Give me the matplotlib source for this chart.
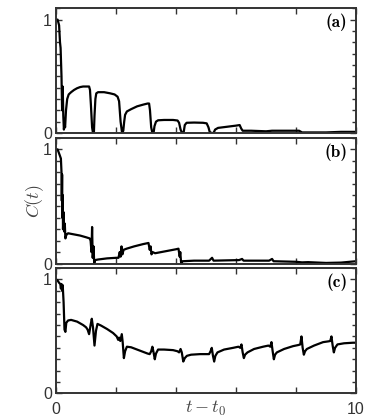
import matplotlib
matplotlib.use("Agg")
import os
import matplotlib.pyplot as plt
from matplotlib.ticker import MultipleLocator
from matplotlib.font_manager import FontProperties

plt.rcParams['mathtext.fontset'] = 'cm'
plt.rcParams['font.family'] = ['Liberation Sans', 'DejaVu Sans']

# ---- data ----
t_a = [0.0, 0.05, 0.1, 0.13, 0.15, 0.18, 0.2, 0.22, 0.24, 0.26, 0.28, 0.3, 0.33, 0.37, 0.42, 0.5, 0.6, 0.7,
       0.8, 0.9, 1.0, 1.1, 1.13, 1.16, 1.2, 1.23, 1.26, 1.28, 1.31, 1.34, 1.4, 1.6, 1.8, 1.95, 2.05, 2.1,
       2.15, 2.2, 2.24, 2.27, 2.3, 2.36, 2.5, 2.7, 2.9, 3.05, 3.1, 3.13, 3.17, 3.21, 3.25, 3.28, 3.33, 3.4,
       3.6, 3.9, 4.05, 4.1, 4.15, 4.2, 4.25, 4.29, 4.35, 4.6, 4.9, 5.02, 5.08, 5.12, 5.18, 5.25, 5.3, 5.4,
       5.7, 6.0, 6.12, 6.17, 6.22, 6.5, 7.0, 7.2, 7.5, 8.1, 8.2, 9.0, 9.5, 10.0]
c_a = [1.0, 1.0, 0.95, 0.8, 0.75, 0.5, 0.2, 0.41, 0.15, 0.03, 0.08, 0.05, 0.2, 0.3, 0.34, 0.36, 0.38, 0.395,
       0.405, 0.41, 0.41, 0.41, 0.38, 0.25, 0.05, 0.0, 0.0, 0.15, 0.3, 0.35, 0.36, 0.36, 0.35, 0.34, 0.32, 0.28,
       0.1, 0.0, 0.02, 0.1, 0.16, 0.19, 0.21, 0.235, 0.25, 0.26, 0.26, 0.2, 0.05, 0.0, 0.0, 0.06, 0.1, 0.112,
       0.115, 0.115, 0.11, 0.09, 0.03, 0.0, 0.0, 0.07, 0.09, 0.092, 0.09, 0.085, 0.05, 0.01, 0.0, 0.0, 0.03, 0.045,
       0.055, 0.065, 0.07, 0.04, 0.02, 0.02, 0.015, 0.02, 0.02, 0.02, 0.005, 0.005, 0.01, 0.01]

t_b = [0.0, 0.05, 0.12, 0.16, 0.18, 0.19, 0.2, 0.21, 0.22, 0.23, 0.25, 0.27, 0.29, 0.31, 0.34, 0.4, 0.6, 0.8,
       1.0, 1.12, 1.15, 1.18, 1.2, 1.22, 1.25, 1.27, 1.3, 1.4, 1.7, 2.0, 2.08, 2.12, 2.15, 2.18, 2.21, 2.25,
       2.35, 2.6, 2.9, 3.08, 3.12, 3.15, 3.18, 3.22, 3.3, 3.5, 3.8, 4.0, 4.08, 4.12, 4.14, 4.17, 4.22, 4.6,
       5.1, 5.2, 5.25, 6.1, 6.2, 6.25, 7.1, 7.2, 7.25, 8.0, 8.2, 8.4, 9.0, 9.5, 10.0]
c_b = [1.0, 1.0, 0.95, 0.92, 0.8, 0.55, 0.78, 0.4, 0.6, 0.3, 0.45, 0.28, 0.35, 0.22, 0.25, 0.265, 0.255, 0.245,
       0.23, 0.22, 0.2, 0.1, 0.32, 0.05, 0.15, 0.0, 0.03, 0.035, 0.045, 0.05, 0.05, 0.1, 0.06, 0.15, 0.08, 0.12,
       0.13, 0.15, 0.17, 0.18, 0.12, 0.15, 0.08, 0.1, 0.09, 0.1, 0.115, 0.125, 0.13, 0.06, 0.1, 0.0, 0.02, 0.025,
       0.025, 0.05, 0.025, 0.03, 0.04, 0.025, 0.025, 0.04, 0.02, 0.015, 0.01, 0.012, 0.005, 0.008, 0.02]

t_c = [0.0, 0.05, 0.1, 0.14, 0.16, 0.18, 0.2, 0.22, 0.25, 0.28, 0.31, 0.34, 0.4, 0.5, 0.7, 0.9, 1.0, 1.05,
       1.1, 1.15, 1.19, 1.23, 1.28, 1.33, 1.38, 1.5, 1.7, 1.9, 2.02, 2.07, 2.1, 2.14, 2.19, 2.22, 2.26, 2.3,
       2.36, 2.5, 2.7, 2.9, 3.05, 3.12, 3.17, 3.21, 3.25, 3.29, 3.33, 3.4, 3.6, 3.9, 4.05, 4.1, 4.15, 4.19,
       4.24, 4.29, 4.36, 4.5, 4.8, 5.1, 5.15, 5.19, 5.23, 5.27, 5.31, 5.38, 5.6, 5.9, 6.08, 6.14, 6.18, 6.22,
       6.26, 6.3, 6.38, 6.6, 6.9, 7.08, 7.14, 7.18, 7.22, 7.26, 7.3, 7.36, 7.6, 7.9, 8.08, 8.14, 8.18, 8.22,
       8.26, 8.3, 8.36, 8.6, 8.9, 9.08, 9.14, 9.18, 9.22, 9.26, 9.3, 9.38, 9.6, 9.9, 10.0]
c_c = [1.0, 0.99, 0.97, 0.96, 0.92, 0.96, 0.9, 0.95, 0.8, 0.56, 0.54, 0.62, 0.64, 0.645, 0.63, 0.6, 0.58, 0.56,
       0.52, 0.6, 0.655, 0.58, 0.42, 0.55, 0.61, 0.595, 0.565, 0.53, 0.5, 0.47, 0.49, 0.46, 0.52, 0.45, 0.31, 0.37,
       0.41, 0.405, 0.385, 0.365, 0.35, 0.345, 0.37, 0.41, 0.36, 0.30, 0.35, 0.385, 0.385, 0.38, 0.37, 0.36, 0.39, 0.36,
       0.28, 0.31, 0.33, 0.34, 0.345, 0.345, 0.37, 0.40, 0.33, 0.28, 0.33, 0.36, 0.385, 0.40, 0.41, 0.40, 0.43, 0.36,
       0.31, 0.34, 0.36, 0.39, 0.41, 0.42, 0.41, 0.45, 0.37, 0.30, 0.34, 0.36, 0.39, 0.415, 0.425, 0.43, 0.50, 0.40,
       0.34, 0.37, 0.39, 0.42, 0.45, 0.457, 0.46, 0.50, 0.42, 0.36, 0.40, 0.43, 0.44, 0.445, 0.445]

panel_labels = ['(a)', '(b)', '(c)']
x_ticks = [0, 2, 4, 6, 8, 10]
x_ticklabels = ['0', '', '', '', '', '10']
y_ticks = [0, 1]
y_ticklabels = ['0', '1']

series = [(t_a, c_a), (t_b, c_b), (t_c, c_c)]

cmb_path = os.path.join(matplotlib.get_data_path(), 'fonts', 'ttf', 'cmb10.ttf')
label_font = FontProperties(fname=cmb_path, size=12.5)

fig = plt.figure(figsize=(3.74, 4.19), dpi=100)
L, W = 0.150, 0.802
boxes = [(0.6826, 0.2976), (0.3711, 0.2995), (0.0609, 0.2995)]
spine_col = '#333333'
tick_col = '#333333'

for i, ((t, c), (b, h)) in enumerate(zip(series, boxes)):
    ax = fig.add_axes([L, b, W, h])
    ax.plot(t, c, color='black', lw=1.6)
    ax.set_xlim(0, 10)
    ax.set_ylim(0, 1.1)
    ax.set_xticks(x_ticks)
    if i == 2:
        ax.set_xticklabels(x_ticklabels)
    else:
        ax.set_xticklabels([''] * len(x_ticks))
    ax.set_yticks(y_ticks)
    ax.set_yticklabels(y_ticklabels)
    ax.yaxis.set_minor_locator(MultipleLocator(0.1))
    ax.tick_params(which='both', direction='in', top=True, right=True, colors=spine_col,
                   labelcolor=tick_col, labelsize=11.5, width=1.0)
    ax.tick_params(which='major', length=4, pad=3)
    ax.tick_params(axis='x', which='major', pad=6)
    ax.tick_params(which='minor', length=3)
    for s in ax.spines.values():
        s.set_color(spine_col)
        s.set_linewidth(1.4)
    ax.text(0.972, 0.955, panel_labels[i], transform=ax.transAxes,
            ha='right', va='top', fontproperties=label_font, color='black')
    if i == 1:
        ax.set_ylabel(r'$C(t)$', fontsize=13, color='#444444', labelpad=-2)
    if i == 2:
        ax.set_xlabel(r'$t - t_0$', fontsize=13, color='#444444', labelpad=-13)

fig.savefig('out.png', dpi=100)
